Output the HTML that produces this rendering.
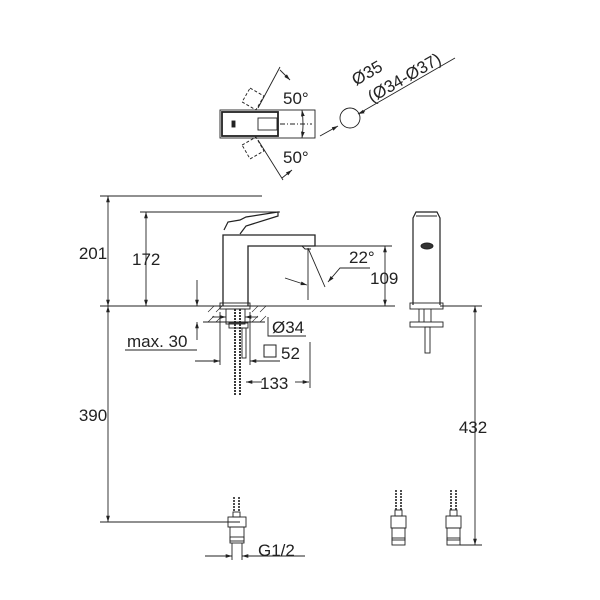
<!DOCTYPE html>
<html><head><style>body{margin:0;background:#fff}svg{display:block}text{font-family:"Liberation Sans",sans-serif;fill:#222}</style></head>
<body>
<svg width="600" height="600" viewBox="0 0 600 600" xmlns="http://www.w3.org/2000/svg">
<defs>
<marker id="a" viewBox="0 0 10 10" refX="10" refY="5" markerWidth="7" markerHeight="7" orient="auto-start-reverse"><path d="M0,2 L10,5 L0,8z" fill="#222"/></marker>
</defs>
<g stroke="#222" stroke-width="0.9" fill="none">
<!-- top view -->
<rect x="220" y="110" width="95" height="28"/>
<rect x="222" y="112" width="56" height="24" stroke-width="1.8"/>
<rect x="258" y="118" width="19" height="12"/>
<rect x="232" y="121" width="3" height="6" fill="#222"/>
<line x1="280" y1="124" x2="312" y2="124" stroke-dasharray="5,2,1,2"/>
<g stroke-dasharray="3,2"><rect x="245" y="91" width="16" height="16" transform="rotate(30 253 99)"/><rect x="245" y="140" width="16" height="16" transform="rotate(-30 253 148)"/></g>
<line x1="258" y1="108" x2="280" y2="67"/><line x1="258" y1="140" x2="283" y2="180"/>
<line x1="290" y1="80" x2="280" y2="70" marker-start="url(#a)"/>
<line x1="292" y1="170" x2="282" y2="178" marker-start="url(#a)"/>
<path d="M302,110 Q304,124 302,138" marker-start="url(#a)" marker-end="url(#a)"/>
<circle cx="350" cy="118" r="10"/>
<line x1="320" y1="136" x2="338" y2="126" marker-end="url(#a)"/>
<line x1="365" y1="111" x2="358" y2="114" marker-end="url(#a)"/>
<line x1="358" y1="114" x2="455" y2="58"/>
<!-- main elevation -->
<line x1="100" y1="196" x2="262" y2="196"/><line x1="140" y1="212" x2="280" y2="212"/>
<line x1="108" y1="196" x2="108" y2="306" marker-start="url(#a)" marker-end="url(#a)"/>
<line x1="146" y1="212" x2="146" y2="306" marker-start="url(#a)" marker-end="url(#a)"/>
<line x1="100" y1="306" x2="395" y2="306"/>
<line x1="440" y1="306" x2="482" y2="306"/>
<line x1="197" y1="280" x2="197" y2="306" marker-end="url(#a)"/>
<line x1="197" y1="340" x2="197" y2="322" marker-end="url(#a)"/>
<line x1="125" y1="350" x2="197" y2="350"/>
<!-- faucet -->
<path d="M223,306 V235 H315 V246 H248 V306" stroke-width="1.3"/>
<path d="M224,230 L228,222 L240,220 L246,217 L278,212 L278,216 L246,226 L240,234" stroke-width="1.2"/>
<rect x="220" y="303" width="30" height="6"/>
<path d="M302,246 l3,3 h6"/>
<line x1="308" y1="248" x2="308" y2="300"/><line x1="308" y1="248" x2="325" y2="287"/>
<path d="M285,278 Q300,283 307,285" marker-end="url(#a)"/>
<path d="M328,282 L340,268 H370" marker-start="url(#a)"/>
<line x1="310" y1="246" x2="392" y2="246"/>
<line x1="385" y1="246" x2="385" y2="306" marker-start="url(#a)" marker-end="url(#a)"/>
<!-- under counter -->
<line x1="203" y1="322" x2="265" y2="322"/>
<g stroke-width="0.6"><path d="M208,312 l6,-6 M216,312 l6,-6 M252,312 l6,-6 M260,312 l6,-6 M208,322 l6,-6 M216,322 l6,-6 M252,322 l6,-6 M260,322 l6,-6"/></g>
<rect x="226" y="309" width="19" height="15"/>
<rect x="229" y="323" width="19" height="5"/>
<path d="M235,309 V395 M240,309 V395" stroke-width="1.8" stroke-dasharray="2,1"/>
<rect x="242" y="328" width="4" height="30"/>
<line x1="212" y1="317" x2="226" y2="317" marker-end="url(#a)"/><line x1="258" y1="317" x2="245" y2="317" marker-end="url(#a)"/>
<path d="M268,317 V336 H306"/>
<line x1="220" y1="312" x2="220" y2="365"/><line x1="250" y1="312" x2="250" y2="365"/><line x1="310" y1="342" x2="310" y2="388"/>
<line x1="195" y1="361" x2="220" y2="361" marker-end="url(#a)"/><line x1="280" y1="361" x2="250" y2="361" marker-end="url(#a)"/>
<line x1="246" y1="382" x2="262" y2="382" marker-start="url(#a)"/><line x1="295" y1="382" x2="309" y2="382" marker-end="url(#a)"/>
<line x1="108" y1="306" x2="108" y2="522" marker-start="url(#a)" marker-end="url(#a)"/>
<line x1="100" y1="522" x2="240" y2="522"/>
<!-- bottom connector -->
<path d="M234,497 V512 M239,497 V512" stroke-dasharray="2,1" stroke-width="1.6"/>
<rect x="233" y="512" width="7" height="5"/>
<rect x="228" y="517" width="18" height="10"/><rect x="230" y="527" width="14" height="14"/><rect x="230" y="537" width="14" height="6"/>
<line x1="232" y1="543" x2="232" y2="560"/><line x1="242" y1="543" x2="242" y2="560"/>
<line x1="205" y1="556" x2="232" y2="556" marker-end="url(#a)"/><line x1="305" y1="556" x2="242" y2="556" marker-end="url(#a)"/>
<!-- right connectors -->
<g id="c"><path d="M396,490 V510 M401,490 V510" stroke-dasharray="2,1" stroke-width="1.6"/><rect x="395" y="510" width="7" height="6"/><rect x="391" y="516" width="15" height="12"/><rect x="392" y="528" width="13" height="12"/><rect x="392" y="538" width="13" height="7"/></g>
<use href="#c" x="55"/>
<line x1="475" y1="306" x2="475" y2="545" marker-start="url(#a)" marker-end="url(#a)"/>
<line x1="460" y1="545" x2="482" y2="545"/>
<!-- side view -->
<path d="M413,305 V218 L416,212 H437 L440,218 V305" stroke-width="1.2"/>
<line x1="416" y1="216" x2="437" y2="216"/>
<ellipse cx="427" cy="246" rx="6" ry="3" fill="#333"/>
<rect x="410" y="303" width="33" height="6"/>
<line x1="419" y1="309" x2="419" y2="322"/><line x1="424" y1="309" x2="424" y2="322"/><line x1="431" y1="309" x2="431" y2="322"/>
<rect x="410" y="322" width="33" height="5"/>
<rect x="425" y="327" width="5" height="26"/>
</g>
<g font-size="17">
<text x="93" y="259" text-anchor="middle">201</text>
<text x="132" y="265">172</text>
<text x="349" y="263">22°</text>
<text x="370" y="284">109</text>
<text x="127" y="347">max. 30</text>
<text x="272" y="333">Ø34</text>
<text x="281" y="359">52</text>
<text x="260" y="389">133</text>
<text x="93" y="421" text-anchor="middle">390</text>
<text x="473" y="433" text-anchor="middle">432</text>
<text x="258" y="556">G1/2</text>
<text x="283" y="104">50°</text>
<text x="283" y="163">50°</text>
<text x="356" y="86" transform="rotate(-30 356 86)">Ø35</text>
<text x="372" y="103" transform="rotate(-30 372 103)">(Ø34-Ø37)</text>
</g>
<rect x="264" y="345" width="12" height="12" fill="none" stroke="#222"/>
</svg>
</body></html>
